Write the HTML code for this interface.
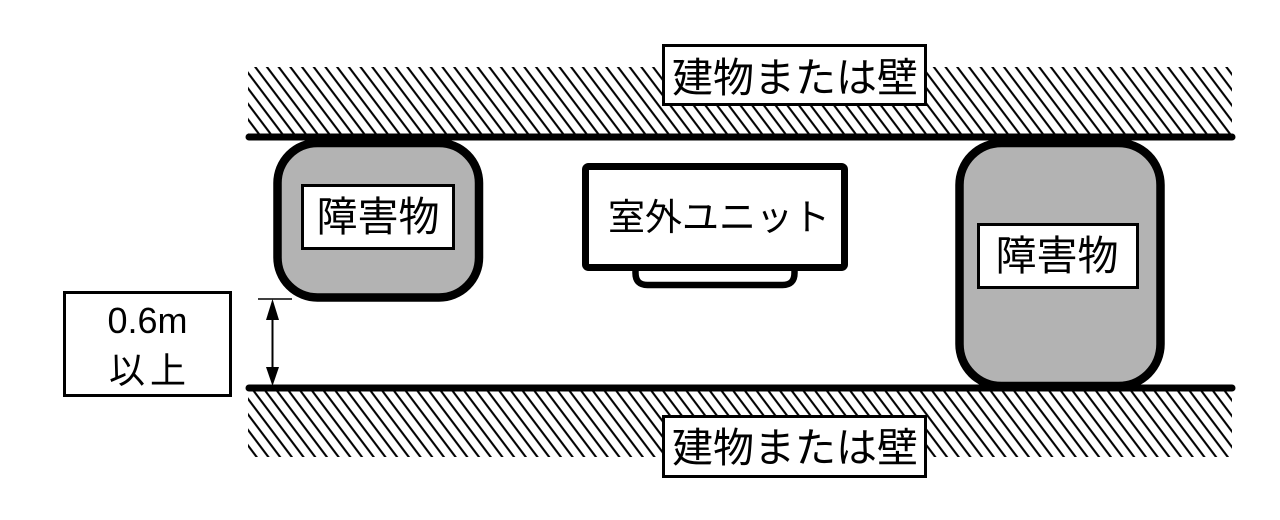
<!DOCTYPE html>
<html>
<head>
<meta charset="utf-8">
<style>
html,body{margin:0;padding:0;background:#fff;}
body{width:1280px;height:520px;overflow:hidden;}
svg{display:block;}
.jp{font-family:"Liberation Sans","Noto Sans CJK JP",sans-serif;}
</style>
</head>
<body>
<svg width="1280" height="520" viewBox="0 0 1280 520" xmlns="http://www.w3.org/2000/svg">
  <defs>
    <pattern id="hatch" patternUnits="userSpaceOnUse" width="11.7" height="11.7" patternTransform="skewX(37)">
      <rect x="4.6" y="0" width="2.6" height="11.7" fill="#000"/>
    </pattern>
  </defs>
  <rect width="1280" height="520" fill="#fff"/>

  <!-- top wall hatch -->
  <rect x="248" y="67" width="984" height="68" fill="url(#hatch)"/>
  <!-- bottom wall hatch -->
  <rect x="248" y="390" width="984" height="67" fill="url(#hatch)"/>

  <!-- wall lines -->
  <line x1="249" y1="137" x2="1232" y2="137" stroke="#000" stroke-width="7" stroke-linecap="round"/>
  <line x1="249" y1="388" x2="1232" y2="388" stroke="#000" stroke-width="7" stroke-linecap="round"/>

  <!-- top label -->
  <rect x="663.5" y="45.5" width="262" height="59" fill="#fff" stroke="#000" stroke-width="3"/>
  <text x="795" y="92" font-size="41" text-anchor="middle" class="jp">建物または壁</text>

  <!-- bottom label -->
  <rect x="663.5" y="416.5" width="262" height="60" fill="#fff" stroke="#000" stroke-width="3"/>
  <text x="795" y="462" font-size="41" text-anchor="middle" class="jp">建物または壁</text>

  <!-- left obstacle -->
  <rect x="277.5" y="143" width="201.5" height="154.5" rx="40" ry="40" fill="#b3b3b3" stroke="#000" stroke-width="8.5"/>
  <rect x="302.5" y="185.5" width="151" height="63" fill="#fff" stroke="#000" stroke-width="3"/>
  <text x="378" y="231" font-size="41" text-anchor="middle" class="jp">障害物</text>

  <!-- right obstacle -->
  <rect x="959.5" y="143" width="201" height="243" rx="42" ry="42" fill="#b3b3b3" stroke="#000" stroke-width="8.5"/>
  <rect x="978.5" y="224.5" width="159" height="63" fill="#fff" stroke="#000" stroke-width="3"/>
  <text x="1057" y="270" font-size="41" text-anchor="middle" class="jp">障害物</text>

  <!-- outdoor unit -->
  <path d="M635.5,266 V273 Q635.5,285 647.5,285 H782.5 Q794.5,285 794.5,273 V266" fill="#fff" stroke="#000" stroke-width="6.5"/>
  <rect x="585.5" y="166.5" width="259" height="101" rx="3" ry="3" fill="#fff" stroke="#000" stroke-width="7"/>
  <text x="719" y="230" font-size="37" text-anchor="middle" class="jp">室外ユニット</text>

  <!-- dimension -->
  <line x1="258" y1="299" x2="292" y2="299" stroke="#000" stroke-width="1.5"/>
  <line x1="272.5" y1="310" x2="272.5" y2="376" stroke="#000" stroke-width="2"/>
  <polygon points="272.5,299 266,320 279,320" fill="#000"/>
  <polygon points="272.5,386 266,367 279,367" fill="#000"/>

  <!-- left label -->
  <rect x="64.5" y="292.5" width="166" height="103" fill="#fff" stroke="#000" stroke-width="3"/>
  <text x="147.5" y="333" font-size="36" text-anchor="middle" font-family="Liberation Sans, sans-serif">0.6m</text>
  <text x="150" y="383" font-size="36" text-anchor="middle" letter-spacing="5" class="jp">以上</text>
</svg>
</body>
</html>
